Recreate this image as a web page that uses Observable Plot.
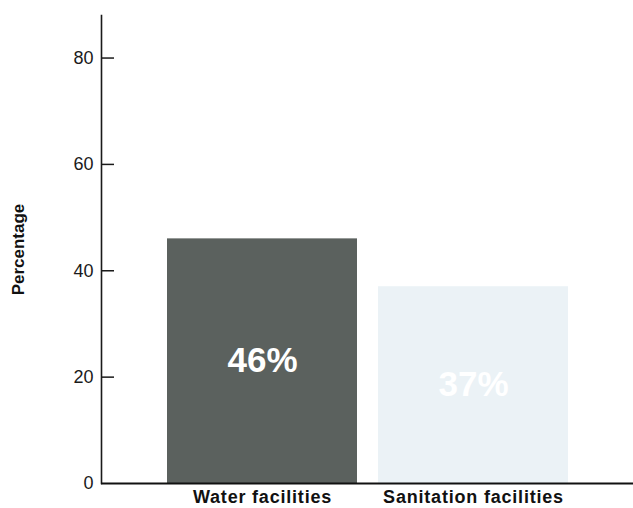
<!DOCTYPE html>
<html>
<head>
<meta charset="utf-8">
<script src="https://cdn.jsdelivr.net/npm/d3@7"></script>
<script src="https://cdn.jsdelivr.net/npm/@observablehq/plot@0.6"></script>
<style>
  html, body { margin: 0; padding: 0; background: #ffffff; }
  #chart { width: 633px; height: 508px; }
</style>
</head>
<body>
<div id="chart"></div>
<script>
const categories = ["Water facilities", "Sanitation facilities"];
const values = [46, 37];
const valueLabels = ["46%", "37%"];
const barColors = ["#5b615e", "#ebf2f6"];
const yTicks = [0, 20, 40, 60, 80];
const yLabel = "Percentage";

const data = categories.map((c, i) => ({category: c, value: values[i], label: valueLabels[i], color: barColors[i]}));

const W = 633, H = 508, ML = 101, MT = 15, MB = 25, MR = 0;
const font = "'Liberation Sans', Arial, Helvetica, sans-serif";

const chart = Plot.plot({
  width: W,
  height: H,
  marginLeft: ML,
  marginRight: MR,
  marginTop: MT,
  marginBottom: MB,
  style: {fontFamily: font, background: "#ffffff", color: "#1a1a1a"},
  x: {domain: categories, paddingInner: 0.1, paddingOuter: 0.31, label: null},
  y: {domain: [0, 88], label: null},
  marks: [
    Plot.barY(data, {x: "category", y: "value", fill: "color"}),
    Plot.text(data, {
      x: "category", y: d => d.value / 2, text: "label",
      fill: "#ffffff", fontSize: 35, fontWeight: "bold"
    }),
    Plot.axisY({ticks: yTicks, tickSize: 0, tickPadding: 8, fontSize: 18, label: null, fill: "#1a1a1a"}),
    Plot.ruleY(yTicks.filter(t => t > 0), {stroke: "#1a1a1a", strokeWidth: 1.5, insetRight: W - ML - MR - 13}),
    Plot.axisX({tickSize: 0, tickPadding: 7, fontSize: 18, fontWeight: "bold", label: null, fill: "#111"}),
    Plot.frame({anchor: "left", stroke: "#1a1a1a", strokeWidth: 1.6}),
    Plot.ruleY([0], {stroke: "#111", strokeWidth: 2.2}),
    Plot.text([yLabel], {
      frameAnchor: "left", text: d => d, rotate: -90, dx: -83, textAnchor: "middle",
      fontSize: 17, fontWeight: "bold", fill: "#111"
    })
  ]
});

d3.select(chart).selectAll("[aria-label='x-axis tick label'] text").attr("letter-spacing", "0.8px");
document.getElementById("chart").appendChild(chart);
</script>
</body>
</html>
